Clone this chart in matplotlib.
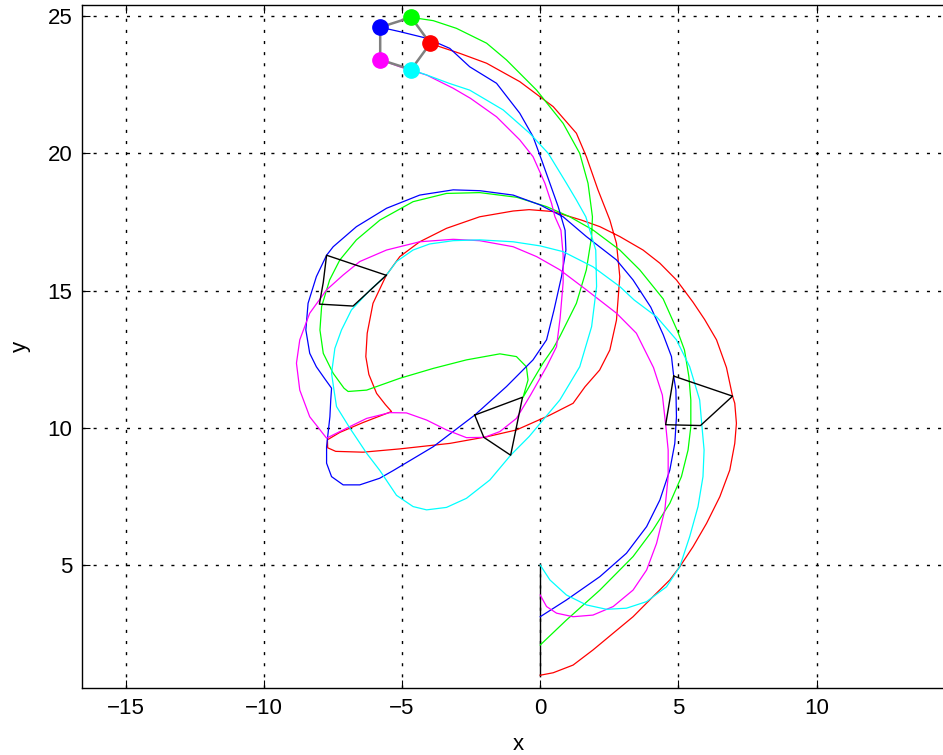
import matplotlib
matplotlib.use("Agg")
import matplotlib.pyplot as plt

# === Trajectories of the five agents ===
red_x = [0.00, 0.47, 1.19, 1.91, 2.64, 3.36, 4.08, 4.69, 5.05, 5.53, 6.02, 6.50, 6.86, 7.04, 7.10, 7.04, 6.96,
         6.74, 6.38, 5.95, 5.53, 4.93, 4.33, 3.72, 2.88, 2.16, 1.49, 0.47, -0.40, -0.98, -2.19, -3.39, -4.36,
         -5.08, -5.57, -6.05, -6.26, -6.31, -6.20, -5.92, -5.60, -5.38, -6.41, -7.25, -7.70, -7.69, -7.40,
         -6.41, -5.08, -3.27, -1.94, -0.86, 0.35, 1.19, 1.62, 2.15, 2.52, 2.76, 2.88, 2.76, 2.52, 2.09, 1.67,
         1.31, 0.47, -0.74, -1.94, -2.91, -3.63, -3.98]
red_y = [1.00, 1.09, 1.37, 1.92, 2.53, 3.13, 3.86, 4.47, 4.95, 5.68, 6.53, 7.50, 8.47, 9.44, 10.17, 10.90, 11.16,
         12.20, 13.21, 13.95, 14.58, 15.39, 16.00, 16.48, 16.97, 17.33, 17.57, 17.88, 17.95, 17.90, 17.69, 17.27,
         16.78, 16.24, 15.56, 14.54, 13.45, 12.60, 11.95, 11.26, 10.85, 10.60, 10.20, 9.84, 9.57, 9.28, 9.15,
         9.12, 9.24, 9.44, 9.68, 9.93, 10.47, 10.90, 11.50, 12.11, 12.84, 13.93, 15.51, 16.72, 17.57, 18.67,
         19.88, 20.73, 21.70, 22.61, 23.28, 23.64, 23.88, 24.00]

green_x = [0.00, 0.95, 2.16, 3.36, 4.08, 4.69, 5.11, 5.35, 5.45, 5.45, 5.38, 5.22, 4.98, 4.45, 3.60, 2.88, 1.91,
           1.07, 0.23, -0.85, -2.19, -3.39, -4.60, -5.80, -6.65, -7.25, -7.62, -7.91, -7.97, -7.85, -7.49,
           -7.10, -6.95, -6.28, -5.08, -3.87, -2.67, -1.46, -0.86, -0.50, -0.44, -0.62, -0.26, 0.10, 0.47,
           0.71, 1.31, 1.67, 1.86, 1.89, 1.73, 1.43, 0.83, -0.13, -1.22, -1.94, -3.03, -3.87, -4.67]
green_y = [2.10, 3.01, 4.10, 5.32, 6.29, 7.26, 8.23, 9.20, 10.05, 11.02, 11.87, 12.84, 13.50, 14.70, 15.76, 16.48,
           17.21, 17.69, 18.06, 18.40, 18.57, 18.54, 18.24, 17.57, 16.85, 16.12, 15.39, 14.42, 13.57, 12.72,
           11.99, 11.45, 11.33, 11.38, 11.81, 12.17, 12.48, 12.70, 12.60, 12.23, 11.75, 11.12, 11.75, 12.36,
           12.90, 13.33, 14.54, 15.76, 16.97, 17.69, 18.91, 20.00, 21.09, 22.30, 23.40, 24.01, 24.55, 24.83, 24.95]

blue_x = [0.00, 0.95, 2.16, 3.12, 3.85, 4.33, 4.69, 4.87, 4.93, 4.91, 4.83, 4.75, 4.45, 4.00, 3.36, 2.76, 1.67,
          0.83, 0.00, -0.98, -2.19, -3.15, -4.36, -5.56, -6.65, -7.49, -7.73, -8.10, -8.40, -8.48, -8.34, -8.10,
          -7.80, -7.55, -7.58, -7.61, -7.73, -7.73, -7.55, -7.13, -6.53, -5.81, -5.32, -3.87, -2.37, -1.22,
          -0.26, 0.23, 0.50, 0.77, 0.93, 0.90, 0.65, 0.35, 0.05, -0.26, -0.74, -1.58, -2.55, -3.27, -4.11,
          -5.08, -5.79]
blue_y = [3.13, 3.74, 4.59, 5.44, 6.41, 7.38, 8.47, 9.44, 10.41, 11.38, 11.89, 12.60, 13.40, 14.40, 15.39, 16.12,
          16.97, 17.69, 18.12, 18.48, 18.64, 18.67, 18.48, 18.00, 17.33, 16.60, 16.29, 15.51, 14.54, 13.57,
          12.72, 12.23, 11.80, 11.45, 11.00, 10.41, 9.32, 8.72, 8.23, 7.93, 7.93, 8.17, 8.45, 9.32, 10.47,
          11.51, 12.48, 13.21, 14.30, 15.51, 16.48, 17.20, 18.06, 18.91, 19.76, 20.61, 21.46, 22.55, 23.15,
          23.82, 24.19, 24.43, 24.59]

magenta_x = [0.00, 0.23, 0.59, 1.19, 1.91, 2.64, 3.36, 3.85, 4.21, 4.51, 4.63, 4.63, 4.54, 4.42, 4.10, 3.48, 2.76,
             1.67, 0.71, -0.13, -0.98, -2.19, -3.15, -4.36, -5.56, -6.53, -7.13, -7.73, -8.34, -8.70, -8.82,
             -8.70, -8.34, -7.73, -6.89, -6.28, -5.44, -4.84, -4.11, -3.39, -2.67, -2.02, -1.46, -0.86, -0.35,
             0.23, 0.59, 0.72, 0.83, 0.83, 0.75, 0.53, 0.41, 0.17, -0.26, -0.74, -1.58, -2.52, -3.15, -4.11,
             -5.08, -5.79]
magenta_y = [3.92, 3.50, 3.26, 3.13, 3.19, 3.50, 4.10, 4.83, 5.80, 7.02, 8.23, 9.20, 10.12, 11.20, 12.20, 13.45,
             14.18, 15.03, 15.76, 16.24, 16.60, 16.82, 16.87, 16.78, 16.48, 16.06, 15.57, 15.03, 14.18, 13.21,
             12.36, 11.38, 10.41, 9.63, 10.05, 10.35, 10.56, 10.55, 10.29, 9.93, 9.65, 9.66, 9.87, 10.35, 11.20,
             12.23, 12.96, 14.00, 15.30, 16.30, 17.20, 17.70, 18.18, 18.91, 19.88, 20.49, 21.33, 22.00, 22.37,
             22.85, 23.15, 23.41]

cyan_x = [0.00, 0.35, 0.95, 1.67, 2.40, 3.12, 3.85, 4.57, 5.05, 5.41, 5.71, 5.89, 5.93, 5.85, 5.77, 5.41, 4.93,
          4.21, 3.40, 2.88, 1.91, 0.83, 0.00, -0.98, -2.19, -3.15, -4.00, -4.60, -5.20, -5.57, -6.16, -6.83,
          -7.19, -7.43, -7.55, -7.45, -7.37, -6.89, -6.28, -5.80, -5.20, -4.60, -4.11, -3.39, -2.67, -1.82,
          -1.07, -0.40, 0.71, 1.43, 1.86, 2.04, 2.01, 1.65, 1.31, 0.95, 0.29, -0.38, -1.34, -2.55, -3.30,
          -4.10, -4.67]
cyan_y = [5.01, 4.47, 3.92, 3.56, 3.40, 3.44, 3.68, 4.22, 4.95, 6.05, 7.14, 8.23, 9.20, 10.09, 11.02, 12.23, 13.21,
          14.05, 14.66, 15.15, 15.87, 16.42, 16.63, 16.78, 16.85, 16.82, 16.70, 16.48, 16.06, 15.56, 15.02,
          14.30, 13.57, 12.90, 11.99, 11.30, 10.78, 10.00, 9.08, 8.45, 7.55, 7.14, 7.02, 7.11, 7.44, 8.11,
          9.01, 9.69, 11.02, 12.23, 13.69, 15.15, 16.48, 17.69, 18.30, 18.91, 20.00, 20.73, 21.58, 22.30,
          22.55, 22.85, 23.05]

# formation snapshots (black polygons)
snap1_x = [-5.57, -6.77, -7.99, -7.85, -7.73, -5.57]
snap1_y = [15.56, 14.44, 14.51, 15.30, 16.29, 15.56]
snap2_x = [-2.37, -0.64, -1.07, -2.04, -2.37]
snap2_y = [10.47, 11.12, 9.01, 9.66, 10.47]
snap3_x = [4.83, 6.96, 5.80, 4.54, 4.83]
snap3_y = [11.89, 11.16, 10.09, 10.12, 11.89]

# initial line formation and final pentagon (red, green, blue, magenta, cyan)
start_x = [0.0, 0.0]
start_y = [1.0, 5.0]
final_x = [-3.98, -4.67, -5.79, -5.79, -4.67]
final_y = [24.00, 24.95, 24.59, 23.41, 23.05]
final_colors = ['#ff0000', '#00ff00', '#0000ff', '#ff00ff', '#00ffff']

# === Plot ===
fig = plt.figure(figsize=(9.43, 7.55), dpi=100)
ax = fig.add_axes([82 / 943, 67 / 755, 872.75 / 943, 683 / 755])

ax.plot(start_x, start_y, color='k', linewidth=1.0)
ax.plot(red_x, red_y, color='#ff0000', linewidth=0.9)
ax.plot(green_x, green_y, color='#00ff00', linewidth=0.9)
ax.plot(blue_x, blue_y, color='#0000ff', linewidth=0.9)
ax.plot(magenta_x, magenta_y, color='#ff00ff', linewidth=0.9)
ax.plot(cyan_x, cyan_y, color='#00ffff', linewidth=0.9)

for sx, sy in [(snap1_x, snap1_y), (snap2_x, snap2_y), (snap3_x, snap3_y)]:
    ax.plot(sx, sy, color='k', linewidth=1.0)

ax.plot(final_x + final_x[:1], final_y + final_y[:1], color='0.5', linewidth=1.8)
for fx, fy, c in zip(final_x, final_y, final_colors):
    ax.plot(fx, fy, 'o', color=c, markersize=11)

ax.set_xlim(-16.58, 15.0)
ax.set_ylim(0.535, 25.40)
ax.set_xticks([-15, -10, -5, 0, 5, 10])
ax.set_yticks([5, 10, 15, 20, 25])
ax.tick_params(direction='in', top=True, right=True, length=6, width=0.8, labelsize=16, pad=7)
for lab in ax.get_xticklabels() + ax.get_yticklabels():
    lab.set_family('Liberation Sans')
ax.grid(True, color='k', linestyle=(0, (2.2, 5.8)), linewidth=1.0)
for sp in ax.spines.values():
    sp.set_linewidth(1.0)

ax.set_xlabel('x', fontsize=16, family='Liberation Sans', labelpad=11)
ax.set_ylabel('y', fontsize=16, family='Liberation Sans', labelpad=12)

plt.savefig('out.png', dpi=100)
